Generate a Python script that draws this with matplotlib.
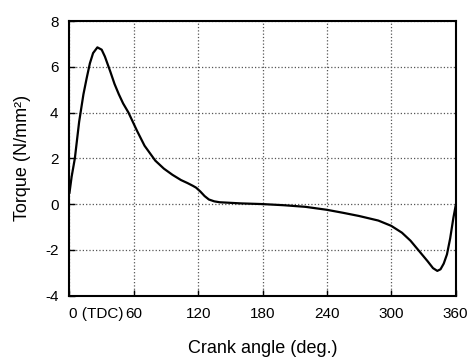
import matplotlib
matplotlib.use("Agg")
import matplotlib.pyplot as plt

# crank angle (deg) and torque (N/mm^2)
crank_angle = [0, 2, 5, 9, 13, 16, 19, 22, 26, 30, 33, 38, 42, 46, 50, 55, 63, 70, 80, 88,
               96, 104, 110, 115, 118, 122, 126, 130, 135, 140, 160, 180, 200, 220, 240,
               255, 270, 288, 300, 310, 318, 326, 334, 339, 343, 346, 349, 352, 355, 358, 360]
torque = [0.5, 1.2, 2.0, 3.6, 4.8, 5.5, 6.15, 6.6, 6.85, 6.75, 6.45, 5.8, 5.25, 4.8, 4.4, 4.0, 3.2, 2.55, 1.9, 1.55,
          1.28, 1.05, 0.92, 0.8, 0.72, 0.55, 0.35, 0.2, 0.12, 0.08, 0.03, 0.0, -0.05, -0.12, -0.25,
          -0.38, -0.52, -0.72, -0.95, -1.25, -1.6, -2.05, -2.5, -2.8, -2.92, -2.85, -2.6, -2.2, -1.5, -0.6, -0.1]

x_ticks = [0, 60, 120, 180, 240, 300, 360]
x_tick_labels = ["0 (TDC)", "60", "120", "180", "240", "300", "360"]
y_ticks = [-4, -2, 0, 2, 4, 6, 8]

plt.rcParams['font.family'] = ['Liberation Sans', 'DejaVu Sans']

fig = plt.figure(figsize=(4.76, 3.57), dpi=100)
ax = fig.add_axes([0.146, 0.172, 0.811, 0.769])

ax.plot(crank_angle, torque, color='black', linewidth=1.6)

ax.set_xlim(0, 360)
ax.set_ylim(-4, 8)
ax.set_xticks(x_ticks)
ax.set_xticklabels(x_tick_labels, fontsize=11)
ax.set_yticks(y_ticks)
ax.set_yticklabels([str(v) for v in y_ticks], fontsize=11)
# first label starts at the axis origin
ax.get_xticklabels()[0].set_horizontalalignment('left')

ax.tick_params(direction='in', length=4, width=1, pad=8)
ax.grid(True, linestyle=':', color='#555555', linewidth=0.9)
for s in ax.spines.values():
    s.set_linewidth(1.5)

ax.set_xlabel("Crank angle (deg.)", fontsize=13, labelpad=14)
ax.set_ylabel("Torque (N/mm²)", fontsize=13, labelpad=10)

fig.savefig("out.png", dpi=100)
